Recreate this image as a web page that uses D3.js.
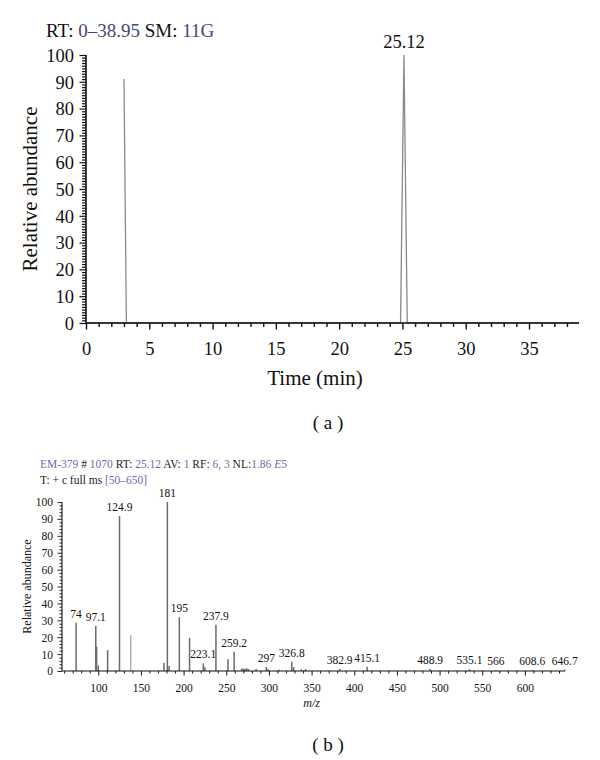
<!DOCTYPE html>
<html>
<head>
<meta charset="utf-8">
<script src="https://cdn.jsdelivr.net/npm/d3@7"></script>
<style>
  html, body { margin: 0; padding: 0; background: #fff; }
  svg { display: block; }
  text { font-family: "Liberation Serif", "Times New Roman", serif; }
</style>
</head>
<body>
<script>
// ---------- DATA ----------
// (a) chromatogram
const rtTime  = [0, 3.19, 3.0, 3.19, 24.85, 25.12, 25.38, 38.95];
const rtAbund = [0, 0, 91, 0, 0, 100, 0, 0];
const rtPeakLabel = { t: 25.12, v: 100, text: "25.12" };
const rtXTicks = [0, 5, 10, 15, 20, 25, 30, 35];
const rtYTicks = [0, 10, 20, 30, 40, 50, 60, 70, 80, 90, 100];

// (b) mass spectrum
const mz = [74, 97.1, 98, 100, 111, 124.9, 138, 177, 181, 183, 195, 207, 223.1, 225, 237.9, 252, 259.2,
            268, 270, 272, 274, 276, 285, 297, 299, 312, 326.8, 329, 338, 343, 382.9, 415.1, 488.9, 535.1, 566, 608.6, 646.7];
const intensity = [28.5, 26.7, 14.4, 3.3, 12.4, 91.7, 21.3, 4.9, 100, 3, 31.8, 19.6, 4.5, 2.2, 27.4, 6.9, 11.4,
            1.3, 1.5, 1.4, 1.6, 1.2, 1.2, 2.4, 1, 0.8, 5.5, 2.3, 1, 1.2, 1.2, 2.5, 1.2, 1, 0.5, 0.5, 0.8];
const lightPeaks = [138];
const labelMz = [74, 97.1, 124.9, 181, 195, 223.1, 237.9, 259.2, 297, 326.8, 382.9, 415.1, 488.9, 535.1, 566, 608.6, 646.7];
const labelText = ["74", "97.1", "124.9", "181", "195", "223.1", "237.9", "259.2", "297", "326.8", "382.9", "415.1", "488.9", "535.1", "566", "608.6", "646.7"];
const msXTicks = [100, 150, 200, 250, 300, 350, 400, 450, 500, 550, 600];
const msYTicks = [0, 10, 20, 30, 40, 50, 60, 70, 80, 90, 100];

const W = 600, H = 760;
const svg = d3.select("body").append("svg").attr("width", W).attr("height", H);

const blueA = "#45457f";
const blueB = "#6d6db2";

// ================= (a) =================
const xa = d3.scaleLinear().domain([0, 38.95]).range([86, 579]);
const ya = d3.scaleLinear().domain([0, 100]).range([323, 55]);

// header
const hA = svg.append("text").attr("x", 46).attr("y", 37).attr("font-size", 19).attr("fill", "#111");
hA.append("tspan").text("RT: ");
hA.append("tspan").attr("fill", blueA).text("0–38.95");
hA.append("tspan").text(" SM: ");
hA.append("tspan").attr("fill", blueA).text("11G");

// trace
const line = d3.line().x((d, i) => xa(rtTime[i])).y((d, i) => ya(rtAbund[i]));
svg.append("path").datum(rtTime).attr("d", line)
  .attr("fill", "none").attr("stroke", "#8a8a8a").attr("stroke-width", 1.3);

svg.append("text").attr("x", xa(rtPeakLabel.t)).attr("y", ya(rtPeakLabel.v) - 7)
  .attr("text-anchor", "middle").attr("font-size", 18.5).attr("fill", "#111").text(rtPeakLabel.text);

// axes
const gxa = svg.append("g").attr("transform", `translate(0,${ya(0)})`);
gxa.call(d3.axisBottom(xa).tickValues(d3.range(0, 39, 1)).tickSize(4).tickFormat(""));
gxa.call(g => g.selectAll(".tick").filter(d => rtXTicks.includes(d)).select("line").attr("y2", 6.5));
gxa.selectAll(".tick").filter(d => rtXTicks.includes(d)).append("text")
  .attr("y", 32).attr("text-anchor", "middle").attr("fill", "#111").attr("font-size", 18.5)
  .text(d => d);
gxa.select(".domain").attr("stroke", "#111").attr("stroke-width", 1.6).attr("d", `M${xa(0)},0H${xa(38.95)}`);
gxa.selectAll(".tick line").attr("stroke", "#111").attr("stroke-width", 1.4);

const gya = svg.append("g").attr("transform", `translate(${xa(0)},0)`);
gya.call(d3.axisLeft(ya).tickValues(d3.range(0, 101, 1)).tickSize(4).tickFormat(""));
gya.selectAll(".tick").filter(d => rtYTicks.includes(d)).select("line").attr("x2", -6.5);
gya.selectAll(".tick").filter(d => rtYTicks.includes(d)).append("text")
  .attr("x", -12).attr("dy", "0.34em").attr("text-anchor", "end").attr("fill", "#111").attr("font-size", 18.5)
  .text(d => d);
gya.select(".domain").attr("stroke", "#111").attr("stroke-width", 1.6).attr("d", `M0,${ya(0)}V${ya(100)}`);
gya.selectAll(".tick line").attr("stroke", "#111").attr("stroke-width", 1.2);

svg.append("text").attr("transform", `translate(37,${(ya(0) + ya(100)) / 2}) rotate(-90)`)
  .attr("text-anchor", "middle").attr("font-size", 21).attr("fill", "#111").text("Relative abundance");
svg.append("text").attr("x", 315).attr("y", 385)
  .attr("text-anchor", "middle").attr("font-size", 21).attr("fill", "#111").text("Time (min)");
svg.append("text").attr("x", 328).attr("y", 429).attr("text-anchor", "middle")
  .attr("font-size", 19).attr("font-family", "Liberation Sans, Arial, sans-serif").attr("fill", "#111")
  .attr("xml:space", "preserve").text("( a )");

// ================= (b) =================
const xb = d3.scaleLinear().domain([57.5, 647]).range([62, 565]);
const yb = d3.scaleLinear().domain([0, 100]).range([671, 502]);

const hB1 = svg.append("text").attr("x", 40).attr("y", 468).attr("font-size", 11.5).attr("fill", "#222");
hB1.append("tspan").attr("fill", blueB).text("EM-379");
hB1.append("tspan").text(" # ");
hB1.append("tspan").attr("fill", blueB).text("1070");
hB1.append("tspan").text(" RT: ");
hB1.append("tspan").attr("fill", blueB).text("25.12");
hB1.append("tspan").text(" AV: ");
hB1.append("tspan").attr("fill", blueB).text("1");
hB1.append("tspan").text(" RF: ");
hB1.append("tspan").attr("fill", blueB).text("6, 3");
hB1.append("tspan").text(" NL:");
hB1.append("tspan").attr("fill", blueB).text("1.86 ");
hB1.append("tspan").attr("fill", blueB).attr("font-style", "italic").text("E");
hB1.append("tspan").attr("fill", blueB).text("5");
const hB2 = svg.append("text").attr("x", 40).attr("y", 484).attr("font-size", 11.5).attr("fill", "#222");
hB2.append("tspan").text("T: + c full ms ");
hB2.append("tspan").attr("fill", blueB).text("[50–650]");

// bars
svg.append("g").selectAll("line").data(mz).join("line")
  .attr("x1", d => xb(d)).attr("x2", d => xb(d))
  .attr("y1", yb(0)).attr("y2", (d, i) => yb(intensity[i]))
  .attr("stroke", d => lightPeaks.includes(d) ? "#b0b0b0" : "#6a6a6a")
  .attr("stroke-width", 1.5);

// labels
svg.append("g").selectAll("text").data(labelMz).join("text")
  .attr("x", d => xb(d))
  .attr("y", d => yb(intensity[mz.indexOf(d)]) - 5)
  .attr("text-anchor", "middle").attr("font-size", 11.5).attr("fill", "#111")
  .text((d, i) => labelText[i]);

// axes
const gxb = svg.append("g").attr("transform", `translate(0,${yb(0)})`);
gxb.call(d3.axisBottom(xb).tickValues(d3.range(60, 647, 10)).tickSize(2.5).tickFormat(""));
gxb.selectAll(".tick").filter(d => msXTicks.includes(d)).select("line").attr("y2", 4.5);
gxb.selectAll(".tick").filter(d => msXTicks.includes(d)).append("text")
  .attr("y", 21).attr("text-anchor", "middle").attr("fill", "#111").attr("font-size", 11.5).text(d => d);
gxb.select(".domain").attr("stroke", "#111").attr("stroke-width", 1.1).attr("d", `M${xb(57.5)},0H${xb(647)}`);
gxb.selectAll(".tick line").attr("stroke", "#111").attr("stroke-width", 1);

const gyb = svg.append("g").attr("transform", `translate(${xb(57.5)},0)`);
gyb.call(d3.axisLeft(yb).tickValues(d3.range(0, 101, 2)).tickSize(2.5).tickFormat(""));
gyb.selectAll(".tick").filter(d => msYTicks.includes(d)).select("line").attr("x2", -4.5);
gyb.selectAll(".tick").filter(d => msYTicks.includes(d)).append("text")
  .attr("x", -9).attr("dy", "0.34em").attr("text-anchor", "end").attr("fill", "#111").attr("font-size", 11.5).text(d => d);
gyb.select(".domain").attr("stroke", "#111").attr("stroke-width", 1.1).attr("d", `M0,${yb(0)}V${yb(100)}`);
gyb.selectAll(".tick line").attr("stroke", "#111").attr("stroke-width", 0.9);

svg.append("text").attr("transform", `translate(31,${(yb(0) + yb(100)) / 2}) rotate(-90)`)
  .attr("text-anchor", "middle").attr("font-size", 12).attr("fill", "#111").text("Relative abundance");
svg.append("text").attr("x", xb(350)).attr("y", 707).attr("text-anchor", "middle")
  .attr("font-size", 12).attr("font-style", "italic").attr("fill", "#111").text("m/z");
svg.append("text").attr("x", 328).attr("y", 751).attr("text-anchor", "middle")
  .attr("font-size", 19).attr("font-family", "Liberation Sans, Arial, sans-serif").attr("fill", "#111")
  .attr("xml:space", "preserve").text("( b )");
</script>
</body>
</html>
